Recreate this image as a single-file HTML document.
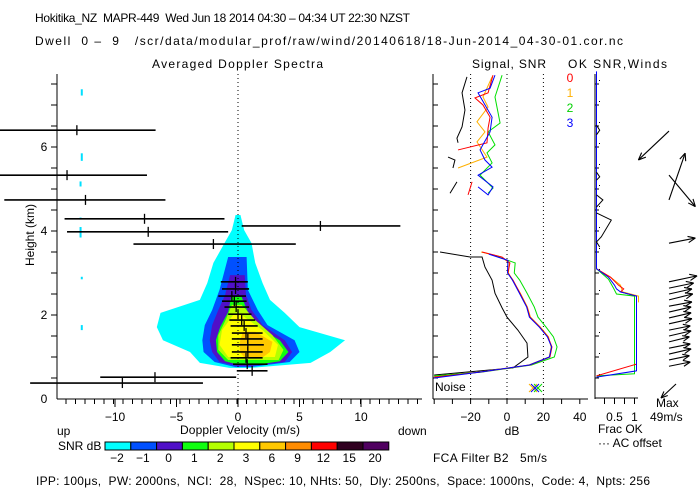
<!DOCTYPE html>
<html><head><meta charset="utf-8"><style>
html,body{margin:0;padding:0;background:#fff}
svg{display:block}
text{font-family:"Liberation Sans",sans-serif;font-size:12px;fill:#000;white-space:pre}
path.ln{fill:none}
</style></head><body>
<svg id="c" width="700" height="500" viewBox="0 0 700 500" xmlns="http://www.w3.org/2000/svg">
<text x="35" y="22" textLength="375" lengthAdjust="spacing">Hokitika_NZ  MAPR-449  Wed Jun 18 2014 04:30 – 04:34 UT 22:30 NZST</text>
<text x="35" y="45" textLength="588" lengthAdjust="spacing">Dwell  0 –  9   /scr/data/modular_prof/raw/wind/20140618/18-Jun-2014_04-30-01.cor.nc</text>
<text x="152" y="68" textLength="171" lengthAdjust="spacing">Averaged Doppler Spectra</text>
<text x="472" y="68" textLength="74" lengthAdjust="spacing">Signal, SNR</text>
<text x="568" y="68" textLength="99" lengthAdjust="spacing">OK SNR,Winds</text>
<text transform="translate(34,235) rotate(-90)" text-anchor="middle" font-size="11">Height (km)</text>
<text x="180" y="434" textLength="120" lengthAdjust="spacing">Doppler Velocity (m/s)</text>
<text x="57" y="435">up</text>
<text x="398" y="435">down</text>
<text x="58" y="450">SNR dB</text>
<text x="512" y="435" text-anchor="middle">dB</text>
<text x="598" y="433">Frac OK</text>
<text x="598" y="447">··· AC offset</text>
<text x="656" y="407">Max</text>
<text x="650" y="421">49m/s</text>
<text x="433" y="462" textLength="114" lengthAdjust="spacing">FCA Filter B2   5m/s</text>
<text x="36" y="485" textLength="614" lengthAdjust="spacing">IPP: 100μs,  PW: 2000ns,  NCI:  28,  NSpec: 10, NHts: 50,  Dly: 2500ns,  Space: 1000ns,  Code: 4,  Npts: 256</text>
<g id="g"></g>
</svg>
<script>
// ---- data ----
const colorLevels=['-2','-1','0','1','2','3','6','9','12','15','20'];
const colorFills=['#00ffff','#0050ff','#5010c8','#10ff10','#b4ff00','#ffff00','#ffc800','#ff8c00','#ff0000','#300020','#500060'];
// spectra contours: rows [height km, left velocity, right velocity]
const contourCyan=[[4.38,-0.2,0.2],[4.02,-0.5,0.5],[3.71,-1.1,1.1],[3.24,-2.0,1.4],[2.76,-2.5,2.0],[2.36,-3.1,2.6],[2.05,-6.3,3.8],[1.71,-6.6,5.0],[1.40,-6.1,8.7],[1.12,-3.9,7.5],[0.86,-3.1,5.9],[0.74,-0.7,1.0]];
const contourBlue=[[3.38,-0.8,0.7],[2.6,-1.5,0.8],[2.12,-2.1,1.6],[1.76,-2.7,2.4],[1.40,-2.9,4.6],[1.12,-2.8,5.0],[0.88,-1.9,4.2],[0.76,-0.2,1.0]];
const contourPurple=[[2.95,-0.65,0.55],[2.48,-1.05,0.65],[2.12,-1.6,1.1],[1.76,-2.1,2.0],[1.40,-2.3,3.8],[1.12,-2.1,4.4],[0.88,-1.5,3.8],[0.79,-0.1,1.0]];
const contourGreen=[[2.43,-0.55,0.3],[2.07,-0.8,0.8],[1.71,-1.45,1.6],[1.40,-1.8,3.4],[1.12,-1.7,4.1],[0.90,-1.05,3.4],[0.81,0.15,1.4]];
const contourLime=[[2.24,-0.5,0.3],[1.88,-1.0,1.4],[1.52,-1.6,2.8],[1.17,-1.6,3.7],[0.93,-0.8,3.3]];
const contourYellow=[[2.0,-0.4,0.3],[1.64,-1.3,2.0],[1.29,-1.5,3.25],[1.0,-0.8,3.0]];
const contourOrange=[[1.6,0.4,1.4],[1.36,0.15,2.8],[1.12,0.15,2.6],[0.98,0.55,1.95]];
// stray cyan echoes [height, vel, height span]
const specks=[[7.3,-12.7,0.15],[5.76,-12.7,0.18],[5.12,-12.8,0.12],[4.3,-12.8,0.04],[3.97,-12.8,0.25],[2.88,-12.7,0.06],[1.7,-12.7,0.12]];
// error bars: height, mean, low, high (m/s)
const ebH=[6.40,5.33,4.74,4.29,4.12,3.98,3.69,2.79,2.62,2.45,2.33,2.19,2.02,1.88,1.74,1.57,1.43,1.29,1.12,0.98,0.83,0.67,0.52,0.38];
const ebMean=[-13.1,-13.9,-12.4,-7.6,6.7,-7.3,-2.0,-0.2,-0.2,-0.5,-0.3,-0.15,0.0,0.3,0.5,0.65,0.8,0.8,0.8,0.65,0.75,1.15,-6.75,-9.4];
const ebLo=[-19.4,-19.4,-19.0,-14.1,0.3,-13.9,-8.5,-1.4,-1.3,-1.6,-1.3,-1.1,-0.8,-0.7,-0.6,-0.5,-0.5,-0.5,-0.5,-0.6,-0.4,-0.1,-11.2,-16.9];
const ebHi=[-6.7,-7.4,-5.9,-1.1,13.2,-0.8,4.7,0.8,0.9,0.65,0.7,0.9,1.1,1.4,1.6,2.0,2.0,2.1,2.0,2.0,2.4,2.4,-0.15,-2.85];
const velTicks=[-10,-5,0,5,10];
const hTicks=[0,2,4,6];
// signal panel profiles [height, dB]; null breaks
const noiseProfile=[[7.67,-22],[7.29,-24.7],[6.88,-23.1],[6.48,-24.7],[6.21,-27.5],[6.1,-26.9],null,[5.76,-32.4],[5.69,-28.6],[5.5,-29.7],null,[5.17,-27.5],[4.9,-31.3],null,[3.5,-36.8],[3.38,-20.3],[3.38,-13.7],[3.14,-12.1],[2.83,-8.2],[2.52,-6.6],[2.17,-2.7],[1.95,0],[1.64,6.0],[1.33,11.0],[1.0,11.5],[0.74,3.3],[0.57,-40]];
const snr0=[[7.71,-7.7],[7.29,-10.4],[7.17,-17.6],[7.0,-13.2],[6.71,-9.3],[6.45,-10.4],[6.1,-11.0],[5.93,-26.9],null,[5.17,-19.2],[4.86,-21.4],null,[3.5,-13.7],[3.38,-2.7],[3.24,1.6],[3.0,0.5],[2.83,3.3],[2.52,7.1],[2.19,11.0],[1.95,12.6],[1.71,18.1],[1.48,22.5],[1.24,24.7],[1.0,23.6],[0.81,12.6],[0.64,-14.8],[0.52,-40]];
const snr1=[[7.67,-8.2],[7.19,-13.2],[6.95,-10.4],[6.6,-16.5],[6.36,-12.1],[6.12,-16.5],[5.76,-11.0],[5.5,-26.9],null,[3.5,-14.2],[3.38,-3.0],[3.24,1.2],[3.0,0.8],[2.83,3.0],[2.52,7.3],[2.19,11.2],[1.95,12.9],[1.71,18.4],[1.48,22.8],[1.24,24.2],[1.0,23.2],[0.81,12.0],[0.64,-15.5],[0.54,-40]];
const snr2=[[7.71,-2.7],[7.19,-6.6],[6.57,-3.8],[6.36,-10.4],[6.05,-6.6],[5.86,-11.0],[5.62,-8.2],[5.33,-14.8],[5.02,-7.7],[4.9,-10.4],null,[3.4,-6.0],[3.24,4.5],[3.0,4.0],[2.83,7.0],[2.52,11.0],[2.19,15.0],[1.95,17.0],[1.71,21.5],[1.48,25.5],[1.24,27.5],[1.0,26.0],[0.81,13.5],[0.64,-14.0],[0.55,-40]];
const snr3=[[7.71,-6.6],[7.4,-9.3],[7.29,-15.9],[6.71,-8.2],[6.36,-9.3],[5.93,-14.8],[5.69,-12.1],[5.52,-8.2],[5.33,-15.9],[5.05,-7.7],[4.86,-10.4],[5.05,-15.9],null,[3.45,-10.0],[3.3,0.5],[3.0,0.3],[2.83,3.0],[2.52,6.8],[2.19,10.8],[1.95,12.3],[1.71,17.8],[1.48,22.2],[1.24,24.5],[1.0,23.3],[0.81,12.3],[0.64,-15.0],[0.5,-40]];
const dbTicks=[-20,0,20,40];
// winds panel
const frac0=[[3.1,0],[2.9,0.35],[2.71,0.55],[2.62,0.68],[2.55,0.6],[2.45,1.0],[0.83,1.0],[0.55,0]];
const frac1=[[3.1,0],[2.9,0.35],[2.71,0.6],[2.55,0.65],[2.45,1.05],[2.3,1.05]];
const frac2=[[3.1,0],[2.85,0.3],[2.65,0.42],[2.5,0.5],[2.45,0.95],[0.6,0.95],[0.55,0]];
const frac3=[[7.8,0],[3.1,0],[2.9,0.3],[2.71,0.45],[2.62,0.5],[2.55,0.6],[2.45,1.0],[0.67,1.0],[0.52,0]];
const acOffset=[[6.52,0],[6.4,0.08],[6.29,0],null,[5.4,0],[5.29,0.08],[5.21,0],null,[4.86,0],[4.74,0.16],[4.57,0],null,[4.43,0],[4.26,0.37],[3.86,0.12],[3.74,0],[3.62,0.08]];
const windH=[6.38,5.33,4.74,3.71,2.79,2.64,2.5,2.36,2.21,2.07,1.93,1.79,1.64,1.5,1.36,1.21,1.07,0.93,0.78];
const windU=[-36,31,19,31,33,29,27,28,27,26,26,27,25,26,24,25,26,24,25];
const windV=[-34,-37,55,6,7,6,6,7,5,6,6,6,5,6,6,5,6,5,5];
const fracTicks=[0.5,1];
// ---- axes ----
const xv=v=>238+12.3*v, yh=h=>399-42*h, xd=d=>507+1.82*d, xf=f=>596.5+40*f;
const NS='http://www.w3.org/2000/svg', G=document.getElementById('g');
function el(t,a,p){const e=document.createElementNS(NS,t);for(const k in a)e.setAttribute(k,a[k]);(p||G).appendChild(e);return e;}
function line(x1,y1,x2,y2,c,w,extra){return el('line',Object.assign({x1,y1,x2,y2,stroke:c||'#000','stroke-width':w||1},extra||{}));}
function txt(x,y,s,anc,col){const t=el('text',{x,y,'text-anchor':anc||'middle'});if(col)t.setAttribute('style','fill:'+col);t.textContent=s;return t;}
function pathOf(pts,fx,fy){let d='',m=true;for(const p of pts){if(!p){m=true;continue;}d+=(m?'M':'L')+fx(p)+' '+fy(p)+' ';m=false;}return d;}
// contours
const contours=[[contourCyan,0],[contourBlue,1],[contourPurple,2],[contourGreen,3],[contourLime,4],[contourYellow,5],[contourOrange,6]];
contours.forEach(([rows,ci])=>{
 const pts=rows.map(r=>xv(r[1])+','+yh(r[0])).concat(rows.slice().reverse().map(r=>xv(r[2])+','+yh(r[0])));
 const p=el('polygon',{points:pts.join(' '),fill:colorFills[ci]});
 
 
});
specks.forEach(s=>{const r=el('rect',{x:xv(s[1])-1,y:yh(s[0]+s[2]/2),width:2,height:Math.max(2,s[2]*42),fill:'#00e0ff'});
 
 });
// zero line
const zl=line(xv(0),74,xv(0),399,'#000',1,{'stroke-dasharray':'1 3'});


// error bars
ebH.forEach((h,i)=>{const y=yh(h);
 const b=line(Math.max(0,xv(ebLo[i])),y,xv(ebHi[i]),y,'#000',1.6);
 
 
 const m=line(xv(ebMean[i]),y-5,xv(ebMean[i]),y+5,'#000',1.3);
 
 });
// spectra axes
line(57,74,57,399);line(57,399,422,399);
for(let x=66;x<=422;x+=9.5)line(x,399,x,404);
velTicks.forEach(v=>{line(xv(v),399,xv(v),407);const t=txt(xv(v),421,v<0?'−'+(-v):''+v);
 
 });
for(let h=0.5;h<7.7;h+=0.5)line(51,yh(h),57,yh(h));
hTicks.forEach(h=>{const t=txt(44,yh(h)+4,''+h);
 
 });
// signal panel
line(433,74,433,399);line(433,399,588,399);
for(let h=0.5;h<7.7;h+=0.5)line(433,yh(h),438,yh(h));
for(let d=-40;d<=40;d+=10)line(xd(d),399,xd(d),404);
dbTicks.forEach(d=>{if(d<40){const z=line(xd(d),74,xd(d),399,'#000',1,{'stroke-dasharray':'1 3'});
 
 }
 const t=txt(xd(d),421,d<0?'−'+(-d):''+d);
 
 });
const fd=p=>Math.max(433,xd(p[1])), fyy=p=>yh(p[0]);
[[noiseProfile,'#000','noise-profile'],[snr1,'#ffb000','snr-beam-1'],[snr2,'#00e000','snr-beam-2'],[snr0,'#ff0000','snr-beam-0'],[snr3,'#0000ff','snr-beam-3']].forEach(([d,c,n])=>{
 const p=el('path',{d:pathOf(d,fd,fyy),fill:'none',stroke:c,'stroke-width':1,'class':'ln'});
 
 });
el('rect',{x:434,y:381,width:34,height:12,fill:'#fff'});
txt(435,391,'Noise','start');
[['#ffb000',533],['#00e000',538],['#0000ff',535]].forEach(([c,x])=>{line(x-4,384,x+4,392,c);line(x-4,392,x+4,384,c);});
[['0','#ff0000',82],['1','#ffb000',97],['2','#00d000',112],['3','#0000ff',127]].forEach(([s,c,y])=>{const t=txt(570,y,s,'middle',c);
 
 });
// winds panel
line(595,74,595,399);line(595,398,638,398);
for(let h=0.5;h<7.7;h+=0.5)line(595,yh(h),599,yh(h));
[0.25,0.5,0.75,1].forEach(f=>line(xf(f)-2,398,xf(f)-2,404));
fracTicks.forEach(f=>{const t=txt(xf(f)-2,421,''+f);
 
 });
const ac=line(599.5,80,599.5,390,'#000',1,{'stroke-dasharray':'1 20'});


const ffx=p=>xf(p[1]);
[[frac1,'#ffb000','frac-ok-beam-1'],[frac2,'#00e000','frac-ok-beam-2'],[frac0,'#ff0000','frac-ok-beam-0'],[frac3,'#0000ff','frac-ok-beam-3'],[acOffset,'#000','ac-offset-line']].forEach(([d,c,n])=>{
 const p=el('path',{d:pathOf(d,ffx,fyy),fill:'none',stroke:c,'stroke-width':1,'class':'ln'});
 
 });
function arrow(x,y,dx,dy,n){
 const g=el('g',{});
 
 
 el('line',{x1:x,y1:y,x2:x+dx,y2:y+dy,stroke:'#000','stroke-width':1.1},g);
 const L=Math.hypot(dx,dy),ux=dx/L,uy=dy/L,hl=Math.min(8,L*0.35);
 [0.4,-0.4].forEach(a=>{const c=Math.cos(a),s=Math.sin(a);const bx=-(ux*c-uy*s)*hl,by=-(ux*s+uy*c)*hl;
  el('line',{x1:x+dx,y1:y+dy,x2:x+dx+bx,y2:y+dy+by,stroke:'#000','stroke-width':1.1},g);});
}
windH.forEach((h,i)=>arrow(669,yh(h),windU[i]*0.85,-windV[i]*0.85,'wind-barb'));
arrow(676,384,-15,14,'max-wind-key');
// colorbar
colorFills.forEach((c,i)=>{const r=el('rect',{x:105+i*25.8,y:442,width:25.8,height:8,fill:c,stroke:'#000','stroke-width':1});
 
 
 const t=txt(105+i*25.8+12,462,colorLevels[i].replace('-','−'));
 
 });
</script>
</body></html>
